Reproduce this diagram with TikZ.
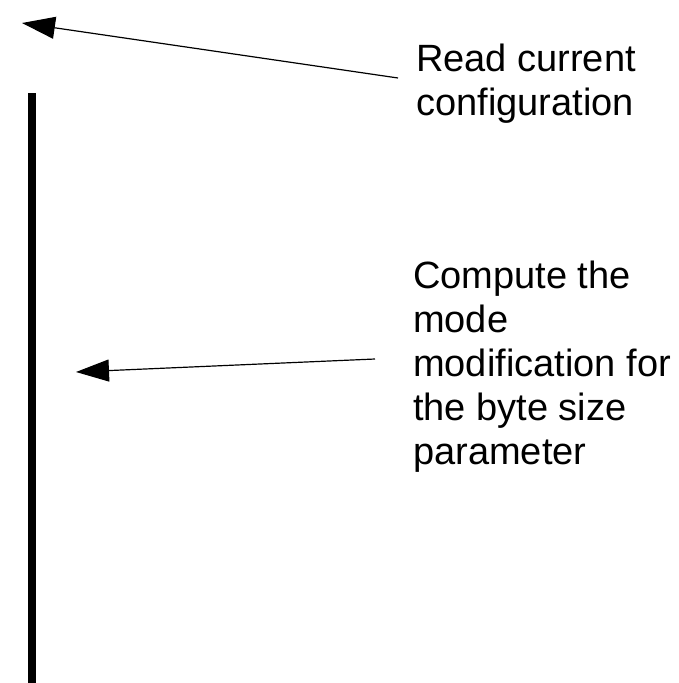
\documentclass[tikz,border=0pt]{standalone}
\usepackage{fontspec}
\setmainfont{Liberation Sans}
\usetikzlibrary{arrows.meta}
\begin{document}
\begin{tikzpicture}[x=1pt,y=-1pt,
  label text/.style={anchor=north west,inner sep=0pt,align=left,
    font=\fontsize{38}{44}\selectfont},
  callout/.style={line width=1.2pt,-{Triangle[length=33pt,width=22pt]}},
  lifeline/.style={line width=8pt}]
\useasboundingbox (0,0) rectangle (678,683);
\draw[lifeline] (32,93) coordinate (ltop) -- (32,683) coordinate (lbot);
\node[label text] (t1) at (416,44) {Read current\\configuration};
\node[label text] (t2) at (413,261) {Compute the\\mode\\modification for\\the byte size\\parameter};
\coordinate (s1) at (398,78);
\coordinate (e1) at (22,23);
\coordinate (s2) at (375,359);
\coordinate (e2) at (76,372);
\draw[callout] (s1) -- (e1);
\draw[callout] (s2) -- (e2);
\end{tikzpicture}
\end{document}
